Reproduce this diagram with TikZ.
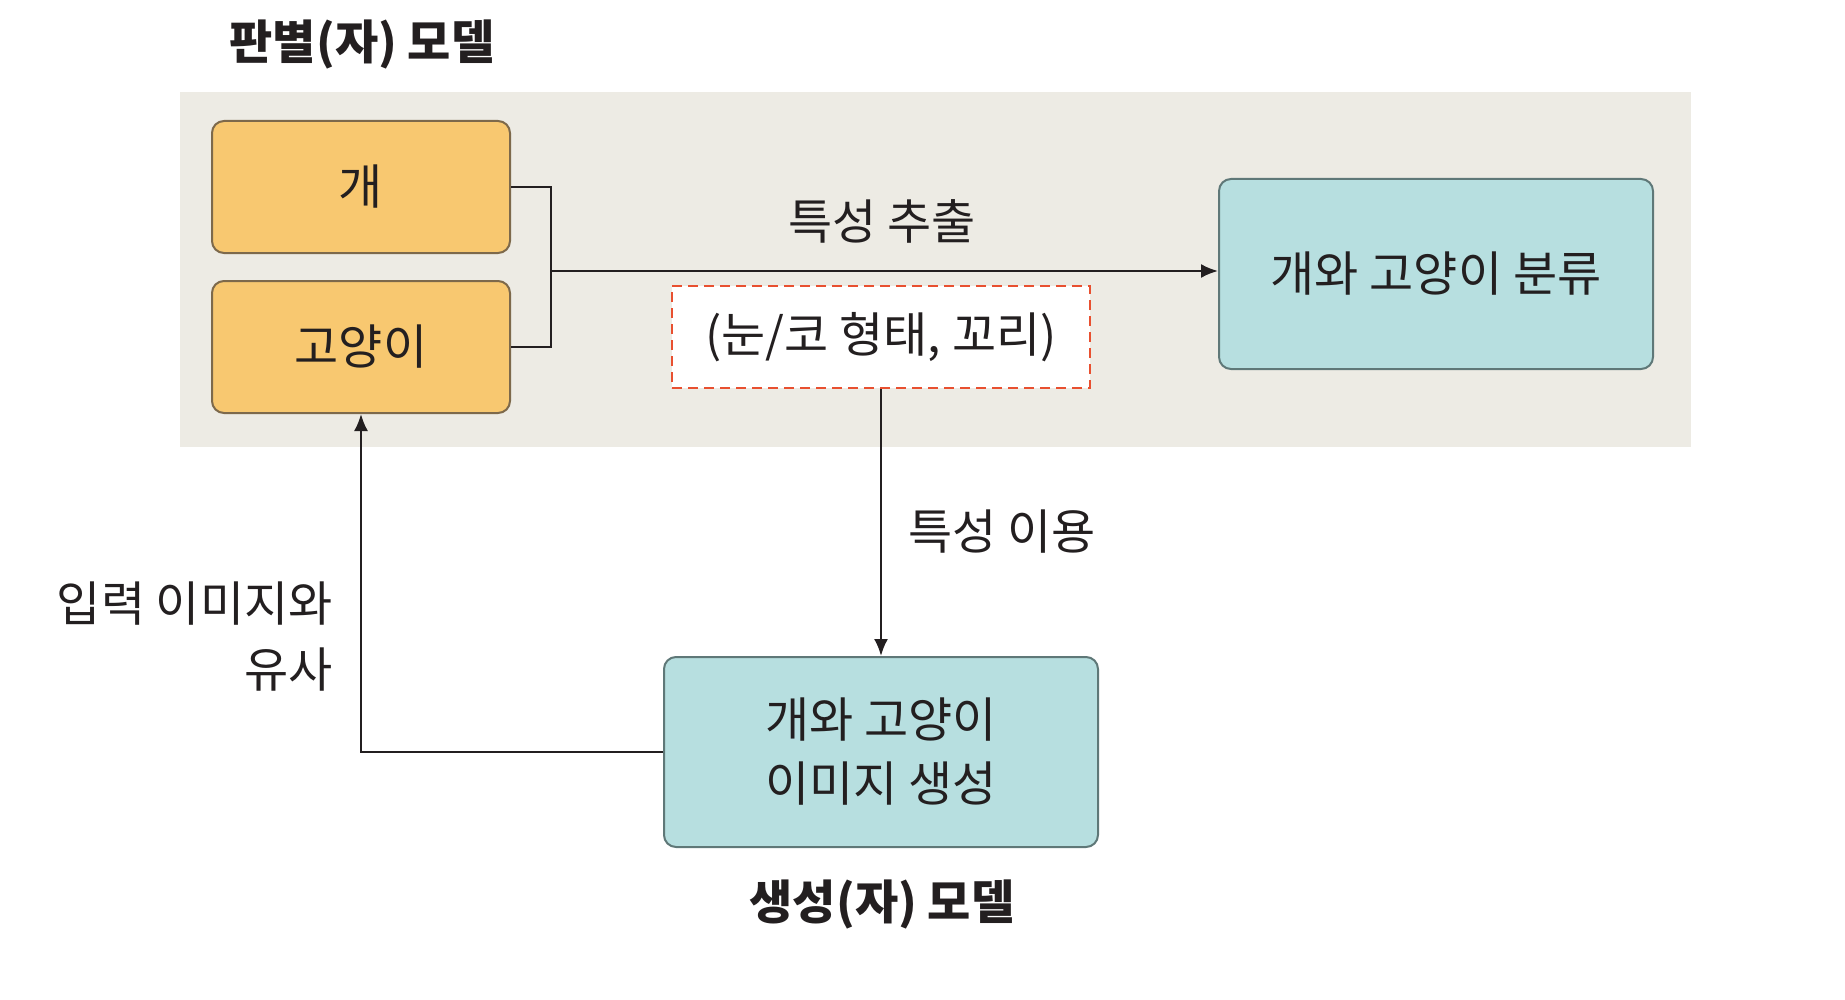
\documentclass[tikz,border=0pt]{standalone}
\usepackage{fontspec}
\setmainfont{Noto Sans CJK KR}
\usetikzlibrary{arrows.meta}

\definecolor{bggray}{RGB}{237,235,228}
\definecolor{animalfill}{RGB}{248,200,112}
\definecolor{animaldraw}{RGB}{125,105,75}
\definecolor{modelfill}{RGB}{183,223,224}
\definecolor{modeldraw}{RGB}{95,120,120}
\definecolor{featred}{RGB}{232,80,48}
\definecolor{textblack}{RGB}{35,31,32}

\begin{document}
\begin{tikzpicture}[x=0.5pt,y=-0.5pt,>={Latex[length=8.5pt,width=7pt]}]
	\tikzstyle{txt}=[font=\fontsize{24}{32}\selectfont,text=textblack,inner sep=0pt]
	\tikzstyle{title}=[txt,font=\fontsize{23.5}{32}\selectfont\bfseries]
	\tikzstyle{box}=[txt,rectangle,rounded corners=6pt,line width=1pt,align=center]
	\tikzstyle{animal}=[box,draw=animaldraw,fill=animalfill,minimum width=149pt,minimum height=66pt]
	\tikzstyle{model}=[box,draw=modeldraw,fill=modelfill,minimum width=217pt,minimum height=95pt]
	\tikzstyle{feat}=[box,rounded corners=0pt,draw=featred,fill=white,dashed,dash pattern=on 5pt off 3pt,line width=1.3pt,minimum width=209pt,minimum height=51pt]
	\tikzstyle{edge}=[draw=textblack,line width=1.1pt]

	\useasboundingbox (0,0) rectangle (1845,1000);
	\fill[bggray] (180,92) rectangle (1691,447);

	\node [title] (dtitle) at (362,44) {판별(자) 모델};
	\node [animal] (dog) at (361,187) {개};
	\node [animal] (cat) at (361,347) {고양이};
	\node [model] (cls) at (1436,274) {개와 고양이 분류};
	\node [feat] (feat) at (881,337) {(눈/코 형태, 꼬리)};
	\node [model] (gen) at (881,752) {개와 고양이\\이미지 생성};
	\node [title] (gtitle) at (882,904) {생성(자) 모델};

	\coordinate (join) at (551,271);
	\node [txt] (extract) at (882,221) {특성 추출};
	\node [txt,anchor=west] (use) at (908,532) {특성 이용};
	\node [txt,anchor=east,align=right,font=\fontsize{24}{33}\selectfont] (similar) at (333,637) {입력 이미지와\\유사};

	\path[edge] (dog.east) -| (join) |- (cat.east);
	\path[edge,->] (join) -- (join -| cls.west);
	\path[edge,->] (feat.south) -- (gen.north);
	\path[edge,->] (gen.west) -| (cat.south);

\end{tikzpicture}
\end{document}
